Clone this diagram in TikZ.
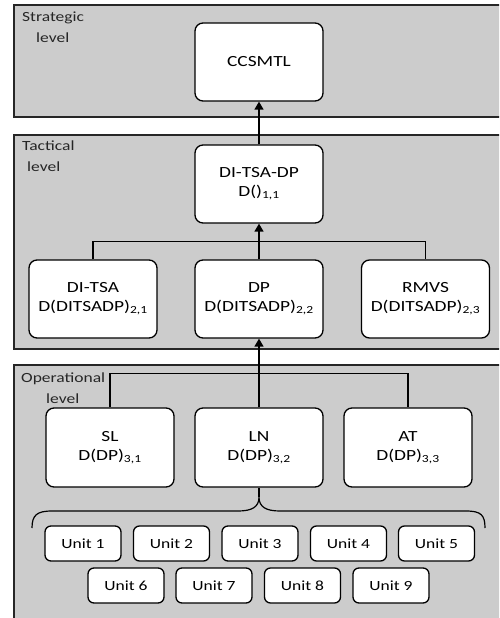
\documentclass[tikz,border=0pt]{standalone}
\usepackage{fontspec}
\setmainfont{Carlito}[FakeStretch=1.25]
\usetikzlibrary{arrows.meta}
\definecolor{panelfill}{RGB}{204,204,204}
\definecolor{paneldraw}{RGB}{38,38,38}
\tikzset{
  panel/.style={draw=paneldraw,fill=panelfill,line width=1.6pt},
  bigbox/.style={draw=black,fill=white,line width=1.3pt,rounded corners=8pt,
    minimum width=128pt,minimum height=78pt,inner sep=0pt,align=center,
    font=\fontsize{15.5}{19}\selectfont},
  unitbox/.style={draw=black,fill=white,line width=1.3pt,rounded corners=6pt,
    minimum width=76pt,minimum height=35pt,inner sep=0pt,
    font=\fontsize{14}{17}\selectfont},
  lvl/.style={align=left,inner sep=0pt,anchor=north west,text=black!85,
    font=\fontsize{14}{20.5}\selectfont},
  conn/.style={line width=1.4pt,draw=black},
  arr/.style={conn,-{Triangle[length=8pt,width=9pt]}},
}
\begin{document}
\begin{tikzpicture}[x=1pt,y=-1pt]
\useasboundingbox (0,0) rectangle (499,618);
\clip (0,0) rectangle (499,618);
% panels
\draw[panel] (14,5) rectangle (520,117);
\draw[panel] (14,135) rectangle (520,349);
\draw[panel] (14,365) rectangle (520,640);
% level labels
\node[lvl] (lstr) at (22,12) {Strategic\\\hspace*{14pt}level};
\node[lvl] (ltac) at (22,141) {Tactical\\\hspace*{5pt}level};
\node[lvl] (lop) at (21,373) {Operational\\\hspace*{25pt}level};
% strategic
\node[bigbox] (ccs) at (259,62) {CCSMTL};
% tactical
\node[bigbox] (tdp) at (259,184) {DI-TSA-DP\\D()\textsubscript{1,1}};
\node[bigbox] (ditsa) at (93,299) {DI-TSA\\D(DITSADP)\textsubscript{2,1}};
\node[bigbox] (dp) at (259,299) {DP\\D(DITSADP)\textsubscript{2,2}};
\node[bigbox] (rmvs) at (425.5,299) {RMVS\\D(DITSADP)\textsubscript{2,3}};
% operational
\node[bigbox,minimum height=79pt] (sl) at (110,447.5) {SL\\D(DP)\textsubscript{3,1}};
\node[bigbox,minimum height=79pt] (ln) at (259,447.5) {LN\\D(DP)\textsubscript{3,2}};
\node[bigbox,minimum height=79pt] (at) at (408,447.5) {AT\\D(DP)\textsubscript{3,3}};
% units
\node[unitbox] (u1) at (83,543.5) {Unit 1};
\node[unitbox] (u2) at (171.5,543.5) {Unit 2};
\node[unitbox] (u3) at (260,543.5) {Unit 3};
\node[unitbox] (u4) at (348.5,543.5) {Unit 4};
\node[unitbox] (u5) at (436.5,543.5) {Unit 5};
\node[unitbox] (u6) at (126,585.5) {Unit 6};
\node[unitbox] (u7) at (214,585.5) {Unit 7};
\node[unitbox] (u8) at (302.5,585.5) {Unit 8};
\node[unitbox] (u9) at (391,585.5) {Unit 9};
% connectors
\draw[arr] (tdp.north) -- (ccs.south);
\draw[conn] (ditsa.north) -- ++(0,-18) -| (rmvs.north);
\draw[arr] (dp.north) -- (tdp.south);
\draw[conn] (sl.north) -- ++(0,-34) -| (at.north);
\draw[arr] (ln.north) -- (dp.south);
% brace
\coordinate (btip) at (259,497);
\coordinate (bl) at (32,528);
\coordinate (br) at (485,528);
\draw[conn,line width=1.2pt] (bl) .. controls (32,515) and (37,511) .. (52,511)
  -- (238,511) .. controls (252,511) and (259,507) .. (btip)
  .. controls (259,507) and (266,511) .. (280,511)
  -- (466,511) .. controls (481,511) and (485,515) .. (br);
\draw[conn,line width=1.2pt] (btip) -- (ln.south);
\end{tikzpicture}
\end{document}
